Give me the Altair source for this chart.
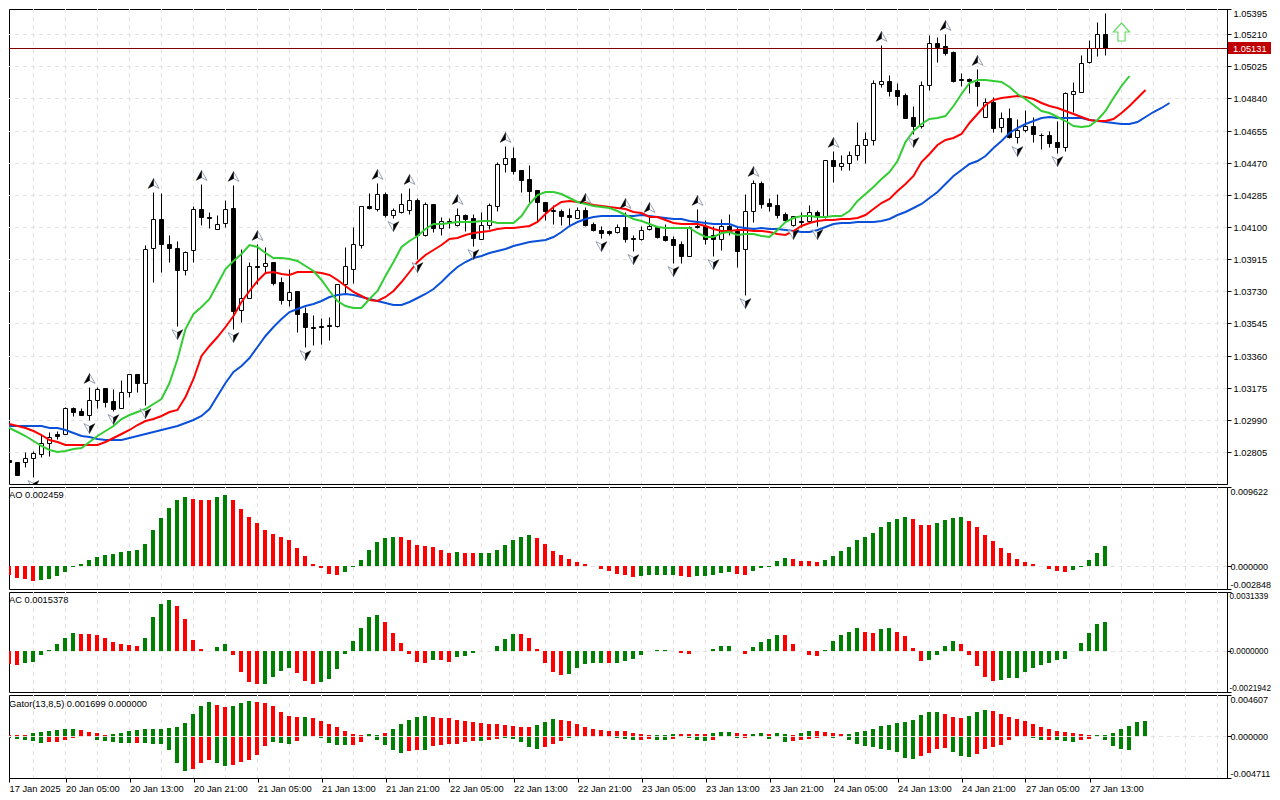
import json
import altair as alt
import pandas as pd

opens = [102803,102758,102745,102749,102768,102795,102858,102908,102906,103056,103039,103019,103102,103171,103096,103056,103148,103252,103200,103977,
104144,104000,103977,103850,103965,104201,104155,104086,104126,104207,103620,103693,103873,103873,103896,103781,103681,103729,103603,103526,
103529,103534,103532,103774,103861,103999,104219,104204,104288,104171,104189,104200,104254,104052,104231,104093,104133,104112,104167,104150,
104033,104110,104223,104461,104496,104427,104375,104313,104242,104198,104192,104167,104154,104196,104116,104081,104077,104072,104098,104037,
104033,104087,104098,104047,104029,104001,103935,104108,104104,104056,104029,104104,104077,103972,104191,104352,104237,104225,104173,104114,
104137,104135,104187,104162,104484,104453,104467,104513,104570,104602,104925,104938,104886,104859,104731,104679,104915,105157,105140,105105,
104950,104950,104936,104731,104821,104673,104725,104620,104656,104681,104631,104629,104587,104562,104867,104879,105051,105128,105209]
highs = [102803,102806,102745,102803,102812,102902,102923,102927,103062,103065,103056,103182,103182,103173,103167,103217,103257,103253,103996,104303,
104295,104054,104017,103963,104222,104347,104184,104169,104255,104341,103973,103896,104002,103988,103900,103810,103858,103729,103637,103593,
103577,103580,103772,103983,104098,104223,104296,104352,104300,104208,104296,104323,104265,104242,104233,104156,104152,104208,104175,104175,
104189,104237,104473,104569,104559,104428,104457,104315,104246,104227,104204,104208,104214,104214,104127,104108,104083,104116,104185,104054,
104108,104166,104108,104118,104050,104020,104108,104204,104141,104108,104146,104175,104108,104288,104373,104363,104265,104288,104185,104166,
104185,104227,104198,104488,104536,104515,104536,104703,104645,104946,105149,104975,104927,104871,104794,104938,105205,105195,105211,105115,
104984,104955,105009,104840,104850,104760,104785,104721,104773,104731,104641,104650,104708,104879,104932,105092,105178,105278,105331]
lows = [102755,102730,102674,102716,102659,102778,102783,102879,102906,103014,103017,102989,103056,103065,103042,103056,103123,103148,103075,103785,
103842,103900,103528,103825,103900,104111,104092,104086,104102,103512,103551,103689,103771,103839,103768,103656,103647,103497,103407,103420,
103427,103452,103523,103720,103778,103979,104204,104192,104156,104152,104181,104175,103916,104050,104070,104056,104093,104108,104079,103993,
104029,104089,104194,104419,104405,104304,104242,104137,104143,104118,104112,104112,104150,104108,104077,104037,104052,104066,104012,103964,
104027,104083,104039,104020,103893,103893,103931,104093,104002,103931,103970,104054,103868,103711,104131,104212,104194,104154,104133,104104,
104098,104123,104108,104154,104361,104430,104430,104488,104466,104574,104904,104856,104804,104729,104635,104669,104890,105051,105092,104936,
104913,104871,104798,104731,104648,104648,104610,104583,104648,104591,104549,104558,104529,104539,104760,104879,105042,105086,105092]
closes = [102755,102749,102674,102768,102797,102858,102893,102898,103056,103037,103019,103102,103165,103094,103052,103148,103252,103200,103971,104144,
104000,103977,103850,103958,104201,104155,104151,104115,104205,103618,103693,103873,103869,103894,103777,103681,103727,103601,103526,103520,
103523,103529,103772,103874,104001,104219,104208,104288,104169,104196,104231,104254,104054,104231,104093,104133,104127,104167,104146,104035,
104110,104225,104461,104496,104425,104373,104309,104242,104194,104191,104166,104156,104196,104114,104085,104068,104068,104098,104033,104033,
104085,104104,104045,104027,103999,103935,104098,104098,104029,104029,104104,104075,103964,104191,104352,104235,104223,104171,104143,104162,
104127,104189,104162,104484,104453,104467,104513,104570,104604,104927,104938,104884,104856,104729,104679,104915,105157,105138,105101,104942,
104946,104942,104913,104821,104671,104725,104620,104656,104679,104633,104627,104585,104562,104869,104881,105047,105128,105209,105131]

lips = [102956,102941,102922,102898,102870,102841,102816,102804,102812,102822,102831,102862,102898,102927,102956,102994,103017,103033,103052,103081,
103110,103205,103340,103512,103599,103637,103685,103771,103858,103906,103944,103996,103983,103950,103919,103919,103917,103906,103873,103848,
103797,103734,103676,103644,103634,103634,103686,103734,103820,103897,103983,104022,104050,104089,104118,104118,104123,104127,104129,104131,
104133,104135,104125,104123,104125,104166,104233,104285,104302,104304,104290,104267,104242,104231,104223,104217,104208,104192,104171,104146,
104135,104116,104098,104097,104097,104097,104093,104066,104045,104043,104066,104070,104056,104060,104062,104047,104045,104085,104127,104150,
104164,104162,104158,104160,104164,104166,104194,104248,104288,104329,104377,104415,104482,104587,104654,104692,104721,104725,104737,104798,
104865,104928,104948,104946,104942,104936,104904,104865,104836,104802,104769,104756,104735,104708,104683,104675,104679,104716,104769,104840,104909,104967]
teeth = [102956,102966,102956,102941,102927,102904,102875,102860,102847,102845,102845,102845,102847,102864,102883,102908,102933,102960,102981,102998,
103014,103033,103048,103119,103225,103359,103413,103468,103522,103589,103666,103733,103791,103833,103839,103829,103823,103839,103842,103844,
103836,103824,103797,103763,103728,103701,103680,103674,103696,103734,103782,103839,103897,103939,103968,103997,104031,104039,104056,104064,
104073,104079,104089,104095,104097,104098,104104,104131,104175,104217,104242,104248,104246,104237,104227,104221,104215,104208,104204,104189,
104179,104160,104156,104141,104125,104120,104116,104116,104104,104089,104075,104075,104085,104083,104079,104075,104072,104060,104054,104075,
104108,104125,104135,104141,104143,104146,104146,104150,104171,104204,104237,104262,104309,104348,104392,104472,104520,104574,104602,104610,
104635,104698,104750,104802,104831,104844,104850,104857,104850,104836,104813,104794,104783,104769,104750,104735,104717,104710,104708,104721,
104754,104798,104842,104890]
jaw = [102956,102952,102952,102956,102956,102952,102946,102941,102929,102916,102900,102889,102879,102875,102874,102874,102883,102895,102906,102918,
102933,102946,102956,102971,102989,103010,103052,103129,103205,103263,103301,103349,103407,103474,103522,103570,103612,103630,103643,103656,
103672,103696,103707,103713,103711,103697,103686,103676,103661,103653,103651,103667,103690,103715,103743,103782,103830,103868,103901,103922,
103935,103951,103960,103974,103993,104004,104012,104018,104024,104041,104070,104104,104127,104146,104156,104162,104164,104164,104164,104164,
104169,104164,104158,104152,104148,104146,104137,104127,104121,104120,104120,104116,104102,104093,104091,104093,104091,104087,104085,104079,
104072,104072,104083,104098,104116,104125,104125,104127,104127,104129,104133,104146,104169,104187,104208,104233,104265,104304,104348,104391,
104430,104462,104481,104510,104554,104597,104639,104668,104692,104712,104727,104731,104729,104729,104729,104725,104717,104712,104706,104698,
104694,104694,104706,104731,104760,104788,104815]

up_fractals = [11,19,25,29,32,47,51,57,63,73,78,81,87,94,104,110,118,122]
down_fractals = [4,11,14,18,22,29,38,49,52,59,75,79,84,89,93,99,102,114,127,132]

ao_values = [-205,-1110,-1480,-1604,-1850,-1727,-1604,-1234,-740,-123,247,740,1110,1357,1480,1727,1850,1974,2714,4318,
5798,7032,8018,8388,8142,8018,8018,8388,8635,8018,6908,5921,5181,4318,3824,3454,3084,2220,1234,247,
-288,-987,-1110,-740,-123,740,1974,2837,3331,3454,3454,3084,2590,2467,2344,1974,1604,1727,1604,1604,
1604,1604,1974,2590,3084,3454,3701,3331,2714,1850,1357,864,493,247,-82,-370,-617,-987,-1110,-1357,
-1234,-1110,-1110,-1110,-1110,-1234,-1357,-1234,-1234,-1110,-864,-740,-987,-1110,-617,-247,-123,617,987,864,
617,617,493,740,1234,1850,2344,3084,3454,3948,4688,5304,5675,5921,5675,4934,4934,5181,5551,5798,
5921,5428,4688,3701,2961,2220,1604,864,493,247,-82,-370,-617,-740,-493,-123,740,1604,2459]
ao_colors = "R"*5+"G"*19+"R"*3+"G"*2+"R"*14+"G"*7+"R"*7+"G"*1+"R"*2+"G"*7+"R"*13+"G"*5+"R"*2+"G"*5+"R"*2+"G"*5+"R"*4+"G"*11+"R"*3+"G"*4+"R"*13+"G"*5

ac_values = [-306,-684,-738,-630,-576,-198,54,378,702,972,918,918,864,702,486,378,324,270,702,1782,
2484,2700,2376,1674,594,108,-36,216,378,-198,-1116,-1656,-1764,-1764,-1386,-1062,-900,-1170,-1602,-1764,
-1656,-1494,-954,-144,540,1242,1782,1890,1512,972,432,-144,-576,-630,-468,-468,-576,-306,-252,-126,
-36,-36,270,648,918,918,702,108,-630,-1116,-1278,-1224,-900,-684,-630,-630,-630,-630,-522,-414,
-198,-36,54,54,-36,-90,-144,-36,-36,108,270,270,-36,-144,216,486,648,864,864,378,
-36,-198,-252,54,540,864,1026,1242,1026,972,1188,1242,1026,810,162,-522,-468,-198,270,540,
378,-198,-792,-1386,-1602,-1548,-1440,-1440,-1116,-900,-738,-630,-468,-414,-36,432,972,1404,1538]
ac_colors = "G"*1+"R"*2+"G"*7+"R"*8+"G"*4+"R"*5+"G"*2+"R"*4+"G"*4+"R"*3+"G"*8+"R"*6+"G"*1+"R"*2+"G"*8+"R"*6+"G"*5+"R"*1+"G"*7+"R"*3+"G"*5+"R"*2+"G"*4+"R"*5+"G"*5+"R"*2+"G"*2+"R"*4+"G"*4+"R"*5+"G"*14

gator_up = [75,75,75,75,337,450,562,674,787,787,674,450,337,112,225,337,562,674,787,787,
787,899,1011,1461,2472,3371,3821,3484,3259,3371,3708,3933,3821,3708,3371,2697,2248,2135,2135,2023,
1686,1349,1011,562,225,112,225,112,337,787,1349,1798,2135,2248,2135,2023,2023,1798,1686,1573,
1461,1349,1349,1236,1124,1011,1011,1236,1573,1910,1798,1686,1349,1011,787,674,562,562,562,337,
225,112,112,112,225,225,225,225,225,337,450,450,337,225,225,337,225,337,225,112,
337,562,562,450,337,225,225,450,562,787,1124,1236,1461,1573,1798,2360,2697,2697,2472,2135,
2023,2248,2697,2922,2810,2472,2135,1910,1686,1349,1011,787,562,450,337,225,112,75,112,337,
787,1124,1573,1699]
gator_down = [-75,-225,-337,-450,-562,-787,-674,-674,-450,-225,-75,-112,-450,-562,-674,-787,-787,-787,-787,-899,
-899,-1573,-3034,-3933,-3708,-3034,-2697,-3034,-3371,-3259,-2922,-2697,-2135,-1124,-674,-787,-899,-562,-75,-75,
-225,-787,-1011,-1011,-1011,-674,-112,-450,-1011,-1573,-1910,-1686,-1573,-1573,-1124,-1011,-899,-899,-674,-562,
-562,-450,-337,-225,-337,-674,-1236,-1461,-1236,-899,-562,-225,0,0,-112,-75,-112,-225,-337,-450,
-450,-337,-450,-450,-337,-112,-225,-450,-562,-450,-75,-75,-225,-225,-75,-75,-337,-112,-674,-562,
-450,-337,-225,-112,-225,-75,-450,-899,-1124,-1236,-1461,-1573,-1798,-2472,-2585,-2248,-1910,-1461,-1349,-1798,
-2248,-2360,-2023,-1461,-1236,-1011,-450,-75,-75,-225,-450,-450,-450,-562,-674,-450,-337,-112,-450,-1124,
-1461,-1573,0,-75]
gator_up_colors = "R"*4+"G"*6+"R"*4+"G"*13+"R"*2+"G"*3+"R"*6+"G"*1+"R"*7+"G"*2+"R"*1+"G"*5+"R"*13+"G"*3+"R"*12+"G"*3+"R"*4+"G"*3+"R"*2+"G"*2+"R"*1+"G"*2+"R"*1+"G"*2+"R"*4+"G"*12+"R"*3+"G"*3+"R"*13+"G"*7
gator_down_colors = "G"*6+"R"*4+"G"*7+"R"*1+"G"*6+"R"*3+"G"*2+"R"*5+"G"*3+"R"*3+"G"*4+"R"*2+"G"*5+"R"*2+"G"*1+"R"*6+"G"*1+"R"*2+"G"*5+"R"*3+"G"*9+"R"*2+"G"*2+"R"*1+"G"*4+"R"*3+"G"*1+"R"*1+"G"*5+"R"*5+"G"*11+"R"*4+"G"*3+"R"*7+"G"*2+"R"*1+"G"*3+"R"*2+"G"*5+"R"*2

price_ticks = [1.05210,1.05025,1.04840,1.04655,1.04470,1.04285,1.04100,1.03915,1.03730,1.03545,1.03360,1.03175,1.02990,1.02805]
time_labels = ["17 Jan 2025","20 Jan 05:00","20 Jan 13:00","20 Jan 21:00","21 Jan 05:00","21 Jan 13:00","21 Jan 21:00","22 Jan 05:00","22 Jan 13:00",
"22 Jan 21:00","23 Jan 05:00","23 Jan 13:00","23 Jan 21:00","24 Jan 05:00","24 Jan 13:00","24 Jan 21:00","27 Jan 05:00","27 Jan 13:00"]
last_price = 1.05131
signal_index = 140
signal_price = 1.05222

FONT = "Liberation Sans"
FS = 9.3
GRID = "#e2e2e2"
X_MIN, X_MAX = 0.9375, 153.1875
WIDTH = 1218
xs = alt.Scale(domain=[X_MIN, X_MAX], nice=False, zero=False, padding=0)
x_q = alt.X("i:Q", scale=xs, axis=None)
bar_colors = alt.Color("c:N", scale=alt.Scale(domain=["G", "R"], range=["#008000", "#ff0000"]), legend=None)

grid_df = pd.DataFrame({"i": list(range(0, 153, 4))})
vgrid = alt.Chart(grid_df).mark_rule(color=GRID, size=1, strokeDash=[4, 4], clip=True).encode(x=x_q)


def right_axis(values, expr, fs=FS, pad=2):
    return alt.Axis(orient="right", values=values, labelExpr=expr, grid=False, labelFlush=True, labelOverlap=False,
                    tickSize=4, tickColor="black", domainColor="black", labelColor="black", labelFont=FONT,
                    labelFontSize=fs, labelPadding=pad, title=None, ticks=True, domain=True)


# ---------- main price panel
P_TOP, P_BOT = 1.05355, 1.02621
py = alt.Scale(domain=[P_BOT, P_TOP], nice=False, zero=False, round=True, padding=0)
p_axis = right_axis([P_TOP] + price_ticks, "datum.value>1.053 ? '1.05395' : format(datum.value,'.5f')")
pyq = alt.Y("p:Q", scale=py, axis=p_axis)
candles = pd.DataFrame({
    "i": range(len(opens)),
    "o": [v / 1e5 for v in opens], "h": [v / 1e5 for v in highs],
    "l": [v / 1e5 for v in lows], "k": [v / 1e5 for v in closes],
})
candles["up"] = candles["k"] > candles["o"]
candles["top"] = candles[["o", "k"]].max(axis=1)
candles["bot"] = candles[["o", "k"]].min(axis=1)

hgrid = alt.Chart(pd.DataFrame({"p": price_ticks})).mark_rule(color=GRID, size=1, strokeDash=[4, 4], yOffset=0.5).encode(y=pyq)
wicks = alt.Chart(candles).mark_rule(color="black", size=1, clip=True, yOffset=0.5, y2Offset=0.5).encode(
    x=x_q, y=alt.Y("h:Q", scale=py, axis=p_axis), y2="l:Q")
bodies = alt.Chart(candles).mark_bar(size=4, stroke="black", strokeWidth=1, clip=True, yOffset=0.5, y2Offset=0.5).encode(
    x=x_q, y=alt.Y("top:Q", scale=py, axis=p_axis), y2="bot:Q",
    fill=alt.Fill("up:N", scale=alt.Scale(domain=[True, False], range=["white", "black"]), legend=None))


def line(values, color):
    df = pd.DataFrame({"i": range(len(values)), "p": [v / 1e5 for v in values]})
    return alt.Chart(df).mark_line(color=color, strokeWidth=2, clip=True).encode(x=x_q, y=pyq)


def fractals(idx, arr, path_a, path_b, offset):
    df = pd.DataFrame({"i": idx, "p": [arr[j] / 1e5 for j in idx]})
    a = alt.Chart(df).mark_point(shape=path_a, filled=True, fill="black", stroke="black", strokeWidth=0.3, size=121, opacity=1,
                                 yOffset=offset, clip=True).encode(x=x_q, y=pyq)
    b = alt.Chart(df).mark_point(shape=path_b, filled=True, fill="white", stroke="#8a97ad", strokeWidth=0.9, size=121, opacity=1,
                                 yOffset=offset, clip=True).encode(x=x_q, y=pyq)
    return [b, a]


ups = fractals(up_fractals, highs, "M0,-1L-1,0.8L0,0.3Z", "M0,-1L1,0.8L0,0.3Z", -8)
downs = fractals(down_fractals, lows, "M0,1L1,-0.8L0,-0.3Z", "M0,1L-1,-0.8L0,-0.3Z", 8)

signal = alt.Chart(pd.DataFrame({"i": [signal_index], "p": [signal_price]})).mark_point(
    shape="M0,-1L0.9,0L0.4,0L0.4,1L-0.4,1L-0.4,0L-0.9,0Z", filled=True, fill="white", stroke="#66dd66",
    strokeWidth=1.2, size=324, opacity=1).encode(x=x_q, y=pyq)

last_df = pd.DataFrame({"p": [last_price], "hi": [last_price + 0.00035], "lo": [last_price - 0.00033], "t": ["1.05131"]})
last_line = alt.Chart(last_df).mark_rule(color="#800000", size=1, yOffset=0.5).encode(y=pyq)
last_box = alt.Chart(last_df).mark_rect(color="#c00000").encode(
    x=alt.value(WIDTH + 1), x2=alt.value(WIDTH + 44), y=alt.Y("hi:Q", scale=py, axis=p_axis), y2="lo:Q")
last_txt = alt.Chart(last_df).mark_text(color="white", font=FONT, fontSize=FS, align="left", baseline="middle", dy=1).encode(
    x=alt.value(WIDTH + 6), y=pyq, text="t:N")

main = alt.layer(hgrid, vgrid, wicks, bodies, line(jaw, "#0b50d8"), line(teeth, "#ff0000"), line(lips, "#32cd32"),
                 *ups, *downs, signal, last_line, last_box, last_txt).properties(width=WIDTH, height=475)


def title_text(txt, y):
    return alt.Chart(pd.DataFrame({"t": [txt]})).mark_text(font=FONT, fontSize=FS, align="left", baseline="middle", color="black").encode(
        x=alt.value(0), y=alt.value(y), text="t:N")


def oscillator(values, colors, dom, fmt, label, height, fs, pad):
    df = pd.DataFrame({"i": range(len(values)), "v": [v / 1e6 for v in values], "c": list(colors), "z": 0.0})
    ys = alt.Scale(domain=dom, nice=False, zero=False, round=True, padding=0)
    expr = "replace(format(datum.value,'%s'),'\u2212','-')" % fmt
    ax = right_axis([dom[0], 0.0, dom[1]], expr, fs, pad)
    zero = alt.Chart(pd.DataFrame({"v": [0.0]})).mark_rule(color=GRID, size=1, strokeDash=[4, 4], yOffset=0.5).encode(
        y=alt.Y("v:Q", scale=ys, axis=ax))
    bars = alt.Chart(df).mark_bar(size=4, xOffset=-0.5, x2Offset=-0.5, clip=True).encode(
        x=x_q, y=alt.Y("v:Q", scale=ys, axis=ax), y2="z:Q", color=bar_colors)
    return alt.layer(zero, vgrid, bars, title_text(label, 8)).properties(width=WIDTH, height=height)


ao = oscillator(ao_values, ao_colors, [-0.002848, 0.009622], ".6f", "AO 0.002459", 102, 9, -1)
ac = oscillator(ac_values, ac_colors, [-0.0021942, 0.0031339], ".7f", "AC 0.0015378", 100, 8.2, -2)

# ---------- gator panel with time axis
gdom = [-0.004711, 0.004607]
gs = alt.Scale(domain=gdom, nice=False, zero=False, round=True, padding=0)
gdf = pd.concat([
    pd.DataFrame({"i": range(len(gator_up)), "v": [v / 1e6 for v in gator_up], "c": list(gator_up_colors), "z": 0.0}),
    pd.DataFrame({"i": range(len(gator_down)), "v": [v / 1e6 for v in gator_down], "c": list(gator_down_colors), "z": 0.0}),
])
tick_positions = [X_MIN] + [8 * n for n in range(1, len(time_labels))]
time_expr = "datum.value<1 ? %s : %s[datum.value/8]" % (json.dumps(time_labels[0]), json.dumps(time_labels))
t_axis = alt.Axis(values=tick_positions, labelExpr=time_expr, grid=False, labelAlign="left",
                  labelBaseline="top", labelFlush=False, labelBound=False, labelOverlap=False,
                  labelFont=FONT, labelFontSize=FS, labelColor="black", labelPadding=2,
                  tickSize=4, tickColor="black", domainColor="black", title=None)
g_axis = right_axis([gdom[0], 0.0, gdom[1]], "replace(format(datum.value,'.6f'),'\u2212','-')", 9, -1)
gx = alt.X("i:Q", scale=xs, axis=t_axis)
gbars = alt.Chart(gdf).mark_bar(size=4, xOffset=-0.5, x2Offset=-0.5, clip=True).encode(
    x=gx, y=alt.Y("v:Q", scale=gs, axis=g_axis), y2="z:Q", color=bar_colors)
gzero = alt.Chart(pd.DataFrame({"v": [0.0]})).mark_rule(color=GRID, size=1, strokeDash=[4, 4], yOffset=0.5).encode(
    y=alt.Y("v:Q", scale=gs, axis=g_axis))
gvgrid = alt.Chart(grid_df).mark_rule(color=GRID, size=1, strokeDash=[4, 4], clip=True).encode(x=gx)
gator = alt.layer(gvgrid, gbars, gzero, title_text("Gator(13,8,5) 0.001699 0.000000", 9)).properties(width=WIDTH, height=83)

chart = alt.vconcat(main, ao, ac, gator, spacing=3, bounds="flush").properties(
    padding=0, background="white").configure_view(stroke="black", strokeWidth=1)

chart.save("out.html", embed_options={"renderer": "svg", "actions": False})
